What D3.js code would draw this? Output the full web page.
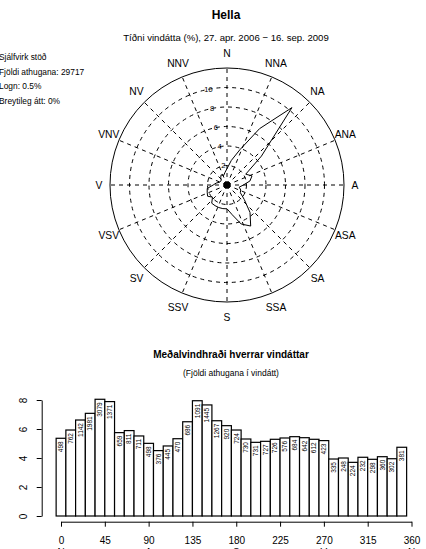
<!DOCTYPE html>
<html>
<head>
<meta charset="utf-8">
<script src="https://cdn.jsdelivr.net/npm/d3@7"></script>
<style>
body { margin: 0; background: #fff; }
svg { display: block; font-family: "Liberation Sans", Arial, sans-serif; }
</style>
</head>
<body>
<div id="chart"></div>
<script>
// ---- data ----
const dirDeg = [0, 10, 20, 30, 40, 50, 60, 70, 80, 90, 100, 110, 120, 130, 140, 150, 160, 170,
    180, 190, 200, 210, 220, 230, 240, 250, 260, 270, 280, 290, 300, 310, 320, 330, 340, 350];
const obsCount = [498, 762, 1142, 1981, 3079, 1371, 659, 811, 711, 498, 376, 445, 470, 686, 1091, 1445, 1267, 920,
    724, 730, 731, 727, 726, 576, 684, 642, 612, 423, 335, 248, 224, 232, 298, 360, 302, 381];
const meanSpeed = [5.36, 5.93, 6.62, 7.08, 8.05, 7.89, 5.75, 5.89, 5.52, 5.01, 4.51, 4.83, 5.33, 6.50, 7.95, 7.66, 6.57, 6.23,
    5.93, 5.31, 5.08, 5.15, 5.29, 5.38, 5.47, 5.40, 5.29, 5.20, 3.93, 4.00, 3.70, 4.05, 3.91, 4.09, 3.95, 4.74];
const rosePct = [1.68, 2.56, 3.84, 6.67, 10.36, 4.61, 2.22, 2.73, 2.39, 1.68, 1.27, 1.50, 1.58, 2.31, 3.67, 4.86, 4.26, 3.10,
    2.44, 2.46, 2.46, 2.45, 2.44, 1.94, 2.30, 2.16, 2.06, 1.42, 1.13, 0.83, 0.75, 0.78, 1.00, 1.21, 1.02, 1.28];
const compassLabels = ["N", "NNA", "NA", "ANA", "A", "ASA", "SA", "SSA", "S", "SSV", "SV", "VSV", "V", "VNV", "NV", "NNV"];
const ringTicks = [2, 4, 6, 8, 10];
const xTicks = [0, 45, 90, 135, 180, 225, 270, 315, 360];
const xTicks2 = [[0, "N"], [90, "A"], [180, "S"], [270, "V"], [360, "N"]];
const yTicks = [0, 2, 4, 6, 8];
const infoLines = ["Sjálfvirk stöð", "Fjöldi athugana: 29717", "Logn: 0.5%", "Breytileg átt: 0%"];

// ---- svg ----
const width = 426, height = 549;
const svg = d3.select("#chart").append("svg")
    .attr("width", width)
    .attr("height", height);

// titles
svg.append("text").attr("x", 226).attr("y", 19)
    .attr("text-anchor", "middle").style("font-size", "12px").style("font-weight", "bold")
    .text("Hella");
svg.append("text").attr("x", 226).attr("y", 41)
    .attr("text-anchor", "middle").style("font-size", "9.6px")
    .text("Tíðni vindátta (%), 27. apr. 2006 − 16. sep. 2009");

// info block on the left
svg.append("g").selectAll("text")
    .data(infoLines)
    .join("text")
    .attr("x", -1)
    .attr("y", (d, i) => 60 + i * 14.6)
    .style("font-size", "8.4px")
    .text(d => d);

// ---- wind rose ----
const cx = 227, cy = 185;
const r = d3.scaleLinear().domain([0, 12]).range([0, 117]);
const rose = svg.append("g").attr("transform", `translate(${cx},${cy})`);

// dashed rings
rose.append("g").selectAll("circle")
    .data(ringTicks)
    .join("circle")
    .attr("r", d => r(d))
    .attr("fill", "none")
    .attr("stroke", "#000")
    .attr("stroke-width", 1)
    .attr("stroke-dasharray", "4,4");

// dashed spokes
rose.append("g").selectAll("line")
    .data(compassLabels)
    .join("line")
    .attr("x1", 0).attr("y1", 0)
    .attr("x2", (d, i) => r(12) * Math.sin(i * Math.PI / 8))
    .attr("y2", (d, i) => -r(12) * Math.cos(i * Math.PI / 8))
    .attr("stroke", "#000")
    .attr("stroke-width", 1)
    .attr("stroke-dasharray", "4,4");

// outer circle
rose.append("circle")
    .attr("r", r(12))
    .attr("fill", "none")
    .attr("stroke", "#000")
    .attr("stroke-width", 1);

// ring labels
rose.append("g").selectAll("text")
    .data(ringTicks)
    .join("text")
    .attr("x", d => r(d) * Math.sin(-11 * Math.PI / 180))
    .attr("y", d => -r(d) * Math.cos(-11 * Math.PI / 180))
    .attr("dy", "0.35em")
    .attr("text-anchor", "middle")
    .attr("fill", "#000")
    .style("font-size", "7.5px")
    .text(d => d);

// compass labels (a bit further out at top and bottom)
rose.append("g").selectAll("text")
    .data(compassLabels)
    .join("text")
    .attr("x", (d, i) => 128 * Math.sin(i * Math.PI / 8))
    .attr("y", (d, i) => -132 * Math.cos(i * Math.PI / 8))
    .attr("dy", "0.35em")
    .attr("text-anchor", "middle")
    .style("font-size", "10.3px")
    .text(d => d);

// frequency polygon
const radial = d3.lineRadial()
    .angle(d => d[0] * Math.PI / 180)
    .radius(d => r(d[1]))
    .curve(d3.curveLinearClosed);
rose.append("path")
    .datum(dirDeg.map((d, i) => [d, rosePct[i]]))
    .attr("d", radial)
    .attr("fill", "none")
    .attr("stroke", "#000")
    .attr("stroke-width", 1);

// calm dot
rose.append("circle").attr("r", 3.6).attr("fill", "#000");

// ---- bar chart ----
svg.append("text").attr("x", 231).attr("y", 358)
    .attr("text-anchor", "middle").style("font-size", "10px").style("font-weight", "bold")
    .text("Meðalvindhraði hverrar vindáttar");
svg.append("text").attr("x", 231).attr("y", 376)
    .attr("text-anchor", "middle").style("font-size", "8.5px")
    .text("(Fjöldi athugana í vindátt)");

const x = d3.scaleLinear().domain([0, 360]).range([61, 411.5]);
const y = d3.scaleLinear().domain([0, 8]).range([516, 400]);
const barW = x(10) - x(0);

const bars = svg.append("g");
bars.selectAll("rect")
    .data(dirDeg)
    .join("rect")
    .attr("x", d => x(d - 5))
    .attr("y", (d, i) => y(meanSpeed[i]))
    .attr("width", barW)
    .attr("height", (d, i) => y(0) - y(meanSpeed[i]))
    .attr("fill", "#fff")
    .attr("stroke", "#000")
    .attr("stroke-width", 1.2);

bars.selectAll("text")
    .data(dirDeg)
    .join("text")
    .attr("transform", (d, i) => `translate(${x(d)},${y(meanSpeed[i]) + 3}) rotate(-90)`)
    .attr("dy", "0.35em")
    .attr("text-anchor", "end")
    .style("font-size", "6.5px")
    .text((d, i) => obsCount[i]);

// y axis
const yAxis = svg.append("g")
    .attr("transform", "translate(41.7,0)")
    .call(d3.axisLeft(y).tickValues(yTicks).tickSize(5).tickSizeOuter(0));
yAxis.selectAll("text")
    .attr("x", null)
    .attr("dy", "0.35em")
    .attr("text-anchor", "middle")
    .attr("transform", "translate(-18.5,0) rotate(-90)")
    .style("font-size", "10px")
    .style("font-family", "Liberation Sans, Arial, sans-serif");

// x axis
const xAxis = svg.append("g")
    .attr("transform", "translate(0,521.7)")
    .call(d3.axisBottom(x).tickValues(xTicks).tickSize(5).tickSizeOuter(0));
xAxis.selectAll("text")
    .attr("y", 18.5)
    .attr("dy", "0.35em")
    .style("font-size", "10px")
    .style("font-family", "Liberation Sans, Arial, sans-serif");
svg.selectAll(".domain, .tick line").attr("stroke", "#000");

// second row of x labels (mostly cut off at the bottom edge, as in the source)
svg.append("g").selectAll("text")
    .data(xTicks2)
    .join("text")
    .attr("x", d => x(d[0]))
    .attr("y", 556)
    .attr("text-anchor", "middle")
    .style("font-size", "10px")
    .text(d => d[1]);
</script>
</body>
</html>
